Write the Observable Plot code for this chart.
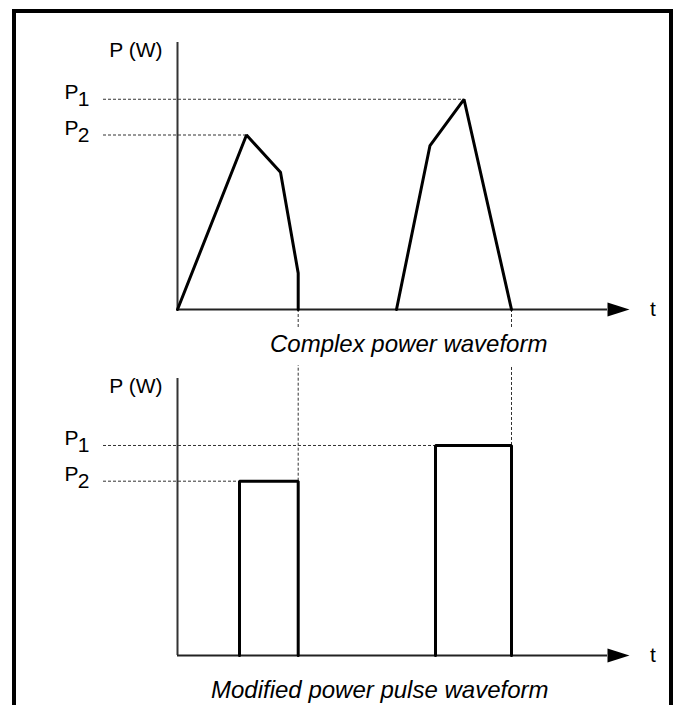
<!DOCTYPE html>
<html>
<head>
<meta charset="utf-8">
<script src="https://cdn.jsdelivr.net/npm/d3@7"></script>
<script src="https://cdn.jsdelivr.net/npm/@observablehq/plot@0.6"></script>
<style>
  html, body { margin: 0; padding: 0; background: #fff; }
  body { width: 674px; height: 705px; position: relative; overflow: hidden; }
  #frame { position: absolute; left: 12px; top: 9px; width: 653px; height: 720px;
           border: 4px solid #000; border-bottom: none; pointer-events: none; z-index: 10; }
  .cap { position: absolute; left: 0; width: 674px; height: 30px; line-height: 30px;
         box-sizing: border-box; background: #fff; white-space: nowrap;
         font-family: "Liberation Sans", Arial, Helvetica, sans-serif; font-style: italic;
         font-size: 24px; color: #000; z-index: 5; }
  #chartTop, #chartBottom { position: absolute; left: 0; }
</style>
</head>
<body>
<div id="frame"></div>
<div id="chartTop" style="top:0px"></div>
<div class="cap" style="top:329px;height:36px;padding-left:270px">Complex power waveform</div>
<div id="chartBottom" style="top:365px"></div>
<div class="cap" style="top:675px;padding-left:211px">Modified power pulse waveform</div>
<script>
// ---- data (time in arbitrary units, power in % of P1) ----
const levelNames = ["P", "P"];
const levelSubs = ["1", "2"];
const levelValues = [100, 83];

// complex waveform: two pulses
const wave1T = [0, 6.9, 10.3, 12.07, 12.07];
const wave1P = [0, 83, 65.3, 17.3, 0];
const wave2T = [21.9, 25.25, 28.65, 33.4];
const wave2P = [0, 78, 100, 0];

// modified rectangular pulses
const rectStart = [6.2, 25.8];
const rectEnd = [12.07, 33.4];
const rectLevel = [83, 100];

// guide line extents (time where each dotted level line ends)
const topGuideEnd = [28.65, 6.9];   // P1 -> peak of pulse 2, P2 -> peak of pulse 1
const bottomGuideEnd = [33.4, 12.07];
const guideStart = -7.4;
const tAxisEnd = 45.2;
const tLabel = "t";
const yLabel = "P (W)";

const font = "Liberation Sans, Arial, Helvetica, sans-serif";
const fs = 21;

const wave1 = wave1T.map((t, i) => ({t, p: wave1P[i]}));
const wave2 = wave2T.map((t, i) => ({t, p: wave2P[i]}));
const rects = rectStart.map((s, i) => [
  {t: s, p: 0}, {t: s, p: rectLevel[i]}, {t: rectEnd[i], p: rectLevel[i]}, {t: rectEnd[i], p: 0}
]);
const levels = levelValues.map((v, i) => ({name: levelNames[i], sub: levelSubs[i], v,
  topEnd: topGuideEnd[i], bottomEnd: bottomGuideEnd[i]}));

// right-pointing filled arrowhead symbol
const arrowHead = {
  draw(ctx, size) {
    const r = Math.sqrt(size / Math.PI);
    ctx.moveTo(r * 1.57, 0);
    ctx.lineTo(-r * 1.57, -r);
    ctx.lineTo(-r * 1.57, r);
    ctx.closePath();
  }
};

function axesMarks(yTop) {
  return [
    Plot.ruleX([0], {y1: 0, y2: yTop, stroke: "#333", strokeWidth: 2}),
    Plot.ruleY([0], {x1: 0, x2: tAxisEnd - 2.2, stroke: "#222", strokeWidth: 2}),
    Plot.dot([tAxisEnd - 1.1], {x: d => d, y: 0, r: 7, symbol: arrowHead, fill: "#000", stroke: "none"}),
    Plot.text([tLabel], {x: 47.55, y: 0, text: d => d, fontSize: fs, fontFamily: font, fill: "#000", textAnchor: "middle", lineAnchor: "middle"}),
    Plot.text([yLabel], {x: 0, y: yTop, text: d => d, fontSize: fs, fontFamily: font, fill: "#000", textAnchor: "end", lineAnchor: "top", dx: -15}),
    Plot.text(levels, {x: guideStart, y: "v", text: "name", fontSize: fs, fontFamily: font, fill: "#000", textAnchor: "end", lineAnchor: "bottom", dx: -25}),
    Plot.text(levels, {x: guideStart, y: "v", text: "sub", fontSize: fs, fontFamily: font, fill: "#000", textAnchor: "end", lineAnchor: "bottom", dx: -14, dy: 7})
  ];
}

const dotted = {stroke: "#333", strokeWidth: 1, strokeDasharray: "3,2"};

const topYMax = 127;
const topChart = Plot.plot({
  width: 674, height: 329,
  marginLeft: 177, marginRight: 45, marginTop: 42, marginBottom: 20,
  style: {background: "transparent"},
  x: {domain: [0, tAxisEnd], axis: null},
  y: {domain: [0, topYMax], axis: null},
  marks: [
    Plot.ruleY(levels, {y: "v", x1: guideStart, x2: "topEnd", ...dotted}),
    Plot.ruleX(rectEnd, {x: d => d, y1: 0, y2: -12, ...dotted}),
    ...axesMarks(topYMax),
    Plot.line(wave1, {x: "t", y: "p", stroke: "#000", strokeWidth: 3, strokeLinejoin: "miter"}),
    Plot.line(wave2, {x: "t", y: "p", stroke: "#000", strokeWidth: 3, strokeLinejoin: "miter"})
  ]
});
document.getElementById("chartTop").append(topChart);

const botYMax = 131.9;
const bottomChart = Plot.plot({
  width: 674, height: 310,
  marginLeft: 177, marginRight: 45, marginTop: 13, marginBottom: 20,
  style: {background: "transparent"},
  x: {domain: [0, tAxisEnd], axis: null},
  y: {domain: [0, botYMax], axis: null},
  marks: [
    Plot.ruleY(levels, {y: "v", x1: guideStart, x2: "bottomEnd", ...dotted}),
    Plot.ruleX(rectEnd.map((e, i) => ({e, l: rectLevel[i]})), {x: "e", y1: "l", y2: botYMax + 10, ...dotted}),
    ...axesMarks(botYMax),
    ...rects.map(r => Plot.line(r, {x: "t", y: "p", stroke: "#000", strokeWidth: 3, strokeLinejoin: "miter"}))
  ]
});
document.getElementById("chartBottom").append(bottomChart);
</script>
</body>
</html>
